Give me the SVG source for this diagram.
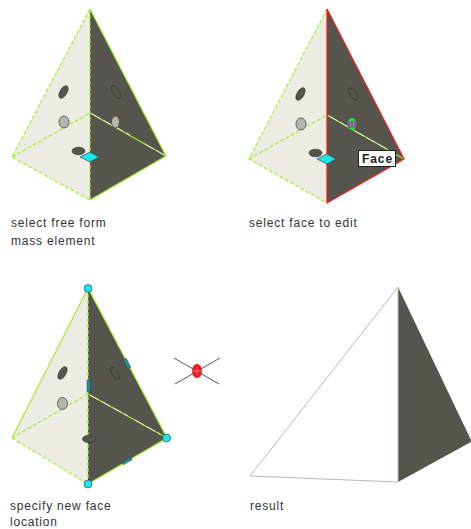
<svg xmlns="http://www.w3.org/2000/svg" width="471" height="529" viewBox="0 0 471 529">
<style>
text{font-family:"Liberation Sans",Arial,sans-serif;font-size:12px;fill:#333;letter-spacing:.8px}
.l{fill:#ecebe4}.d{fill:#55544d}
.g{fill:none;stroke:#a4ee30;stroke-width:1.2}
.ds{stroke-dasharray:4 2}
.w{fill:none;stroke:#e8e8e0;stroke-width:1}
.r{fill:none;stroke:#f02020;stroke-width:1.3}
.h1{fill:#55544d;stroke:#333;stroke-width:.6}
.h2{fill:#55544d;stroke:#3a3a35;stroke-width:.8}
.h3{fill:#b5b5b0;stroke:#444;stroke-width:.8}
.c{fill:#19e6ee;stroke:#333;stroke-width:.6}
.t{fill:#1f8f96;stroke:#333;stroke-width:.4}
</style>
<g id="step1">
<polygon class="l" points="90,9 12,157 90,200"/><polygon class="d" points="90,9 166,156 90,200"/>
<g id="edges1">
<path class="g ds" d="M90,9 12,157 90,200M12,157 90,113"/>
<path class="g" d="M90,9 166,156 90,200"/>
<path class="g ds" d="M90,9V200"/>
<path class="g" d="M90,113 166,156"/>
<path class="w" d="M92,114 130,135M145,144 166,156" stroke-dasharray="10 3"/>
</g>
<ellipse class="h1" cx="63.500" cy="92" rx="3.500" ry="7" transform="rotate(30 63.500 92)"/>
<ellipse class="h2" cx="116" cy="92" rx="3" ry="7" transform="rotate(-32 116 92)"/>
<ellipse class="h3" cx="64" cy="122" rx="5" ry="6"/>
<ellipse class="h3" cx="115.500" cy="122" rx="4" ry="6"/>
<ellipse class="h1" cx="78.500" cy="151" rx="6.500" ry="3.800"/>
<polygon class="c" points="80,157 90,152 99,157 90,162"/>
<text x="11" y="227">select free form</text><text x="11" y="245">mass element</text>
</g>
<g id="step2">
<polygon class="l" points="327,9 249,159 327,203"/><polygon class="d" points="327,9 404,159 327,203"/>
<g id="edges2">
<path class="g ds" d="M327,9 249,159 327,203M249,159 327,115"/>
<path class="g" d="M327,115 404,159"/>
<path class="w" d="M329,116 352,129M355,131 387,149" stroke-dasharray="10 3"/>
<path class="r" d="M327,9 404,159 327,203Z"/>
</g>
<ellipse class="h1" cx="300.500" cy="94" rx="3.500" ry="7" transform="rotate(30 300.500 94)"/>
<ellipse class="h2" cx="353" cy="94" rx="3" ry="7" transform="rotate(-32 353 94)"/>
<ellipse class="h3" cx="301" cy="124" rx="5" ry="6"/>
<ellipse class="h1" cx="315.500" cy="153" rx="6.500" ry="3.800"/>
<polygon class="c" points="317,159 327,154 336,159 327,164"/>
<ellipse cx="352" cy="124" rx="4.500" ry="6" fill="#1fe03a"/><rect x="348" y="121" width="8" height="7" fill="#b040b0"/>
<path d="M350.500,121v7M353.500,121v7" stroke="#1fe03a"/>
<g id="face-label"><rect x="358.500" y="150.500" width="37" height="16" fill="#fff" stroke="#222" stroke-width="1"/>
<text x="362" y="163" style="font-weight:700;font-size:12px;fill:#222;letter-spacing:.9px">Face</text></g>
<text x="249" y="227">select face to edit</text>
</g>
<g id="step3">
<polygon class="l" points="88,288 12,438 88,484"/><polygon class="d" points="88,288 167,438 88,484"/>
<g id="edges3">
<path class="g" d="M88,288 12,438"/>
<path class="g ds" d="M12,438 88,484M12,438 88,394"/>
<path class="g" d="M88,288 167,438 88,484"/>
<path class="g ds" d="M88,288V484"/>
<path class="g" d="M88,394 167,438"/>
<path class="w" d="M90,395 128,416M135,420 160,434" stroke-dasharray="10 3"/>
</g>
<ellipse class="h1" cx="62.500" cy="373" rx="3.500" ry="7" transform="rotate(30 62.500 373)"/>
<ellipse class="h2" cx="115" cy="373" rx="3" ry="7" transform="rotate(-32 115 373)"/>
<ellipse class="h3" cx="62.500" cy="403.500" rx="5" ry="6"/>
<ellipse class="h1" cx="89" cy="439" rx="6.500" ry="3.800"/>
<rect class="t" x="87" y="380" width="3.500" height="12"/>
<rect class="t" x="-1.700" y="-5" width="3.400" height="10" transform="translate(127,363.500) rotate(-27)"/>
<rect class="t" x="-1.500" y="-5" width="3" height="10" transform="translate(127,461) rotate(60)"/>
<circle class="c" cx="88" cy="288.500" r="4"/><circle class="c" cx="166.500" cy="438" r="4"/><circle class="c" cx="88" cy="484" r="4"/>
<text x="10" y="510">specify new face</text><text x="10" y="526">location</text>
</g>
<g id="cursor">
<path d="M174,358 219,384M220,358 175,384" stroke="#555" stroke-width="1" fill="none"/>
<ellipse cx="197" cy="371" rx="5" ry="7" fill="#f01818"/>
<path d="M192,371h10M197,367v8" stroke="#c8a0a0" stroke-width=".7"/>
</g>
<g id="step4">
<polygon class="d" points="398,287 471,440 471,442 398,482"/>
<polygon points="398,287 250,476 398,482" fill="#fff" stroke="#bcbcb4" stroke-width="1"/>
<text x="250" y="510">result</text>
</g>
</svg>
